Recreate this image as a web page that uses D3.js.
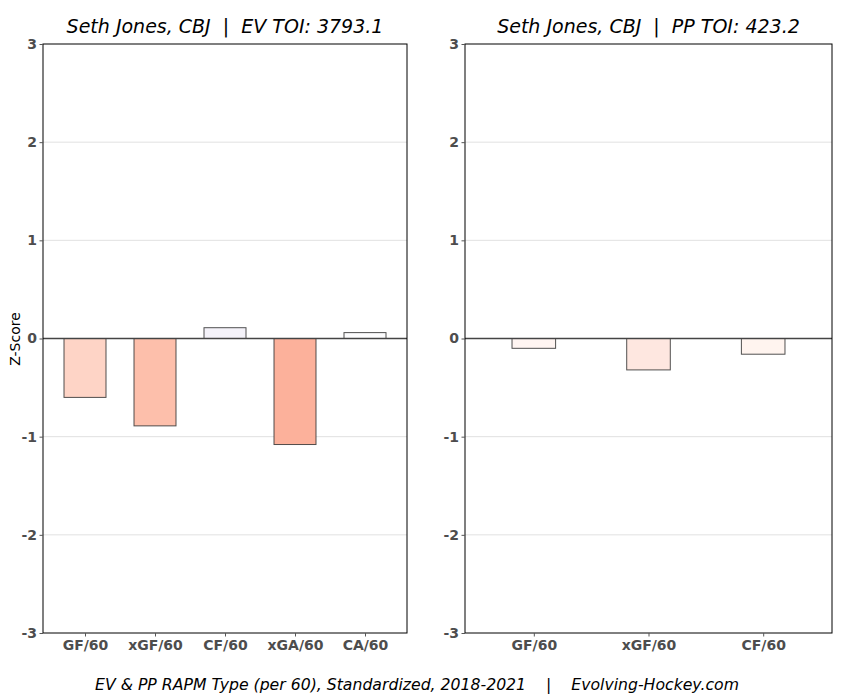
<!DOCTYPE html>
<html>
<head>
<meta charset="utf-8">
<script src="https://cdn.jsdelivr.net/npm/d3@7"></script>
<style>
  body { margin: 0; background: #fff; }
  svg { display: block; font-family: "DejaVu Sans", sans-serif; }
  text.pre { white-space: pre; }
</style>
</head>
<body>
<div id="chart"></div>
<script>
const evMetrics = ['GF/60', 'xGF/60', 'CF/60', 'xGA/60', 'CA/60'];
const evValues = [-0.60, -0.89, 0.11, -1.08, 0.06];
const evColors = ['#fed4c6', '#fdbfab', '#f4f2f9', '#fcb19b', '#fdfdfe'];

const ppMetrics = ['GF/60', 'xGF/60', 'CF/60'];
const ppValues = [-0.10, -0.32, -0.16];
const ppColors = ['#fff5f2', '#fee7e0', '#fff4ef'];

const yTicks = [-3, -2, -1, 0, 1, 2, 3];

const evTitle = 'Seth Jones, CBJ  |  EV TOI: 3793.1';
const ppTitle = 'Seth Jones, CBJ  |  PP TOI: 423.2';
const footer = 'EV & PP RAPM Type (per 60), Standardized, 2018-2021    |    Evolving-Hockey.com';

const width = 850, height = 700;
const svg = d3.select('#chart').append('svg')
    .attr('width', width)
    .attr('height', height);

function panel(opts) {
    const g = svg.append('g');
    const n = opts.metrics.length;

    const x = d3.scaleLinear()
        .domain([-0.6, n - 0.4])
        .range([opts.left, opts.right]);
    const y = d3.scaleLinear()
        .domain([-3, 3])
        .range([opts.bottom, opts.top]);

    // grid
    g.selectAll('.grid')
        .data(yTicks.filter(t => t !== 0 && Math.abs(t) !== 3))
        .enter()
        .append('line')
        .attr('x1', opts.left).attr('x2', opts.right)
        .attr('y1', d => y(d)).attr('y2', d => y(d))
        .attr('stroke', '#d9d9d9')
        .attr('stroke-width', 0.8);

    // bars
    const half = opts.barWidth / 2;
    g.selectAll('.bar')
        .data(opts.values)
        .enter()
        .append('rect')
        .attr('x', (d, i) => x(i - half))
        .attr('width', (d, i) => x(i + half) - x(i - half))
        .attr('y', d => y(Math.max(0, d)))
        .attr('height', d => Math.abs(y(d) - y(0)))
        .attr('fill', (d, i) => opts.colors[i])
        .attr('stroke', '#333')
        .attr('stroke-opacity', 0.85)
        .attr('stroke-width', 1);

    // zero line
    g.append('line')
        .attr('x1', opts.left).attr('x2', opts.right)
        .attr('y1', y(0)).attr('y2', y(0))
        .attr('stroke', '#444')
        .attr('stroke-width', 1.3);

    // frame
    g.append('rect')
        .attr('x', opts.left).attr('y', opts.top)
        .attr('width', opts.right - opts.left)
        .attr('height', opts.bottom - opts.top)
        .attr('fill', 'none')
        .attr('stroke', '#000')
        .attr('stroke-width', 1);

    // axes
    const yAxis = d3.axisLeft(y)
        .tickValues(yTicks)
        .tickFormat(d => String(d))
        .tickSize(3.5)
        .tickPadding(2.5);
    const ya = g.append('g')
        .attr('transform', `translate(${opts.left},0)`)
        .call(yAxis);
    ya.select('.domain').remove();

    const xAxis = d3.axisBottom(x)
        .tickValues(d3.range(n))
        .tickFormat(i => opts.metrics[i])
        .tickSize(3.5)
        .tickPadding(4);
    const xa = g.append('g')
        .attr('transform', `translate(0,${opts.bottom})`)
        .call(xAxis);
    xa.select('.domain').remove();

    g.selectAll('.tick line').attr('stroke', '#555');
    g.selectAll('.tick text')
        .attr('fill', '#4d4d4d')
        .attr('font-size', '14px')
        .attr('font-weight', 'bold')
        .attr('font-family', '"DejaVu Sans", sans-serif');

    // title
    g.append('text')
        .attr('class', 'pre')
        .attr('x', (opts.left + opts.right) / 2)
        .attr('y', opts.top - 11)
        .attr('text-anchor', 'middle')
        .attr('font-size', '19px')
        .attr('font-style', 'italic')
        .attr('fill', '#000')
        .text(opts.title);
}

panel({
    metrics: evMetrics, values: evValues, colors: evColors,
    barWidth: 0.6, title: evTitle,
    left: 43, right: 407, top: 44, bottom: 633
});

panel({
    metrics: ppMetrics, values: ppValues, colors: ppColors,
    barWidth: 0.38, title: ppTitle,
    left: 465, right: 832, top: 44, bottom: 633
});

// y label
svg.append('text')
    .attr('transform', 'translate(20,339) rotate(-90)')
    .attr('text-anchor', 'middle')
    .attr('font-size', '14px')
    .attr('fill', '#000')
    .text('Z-Score');

// footer
svg.append('text')
    .attr('class', 'pre')
    .attr('x', 417)
    .attr('y', 690)
    .attr('text-anchor', 'middle')
    .attr('font-size', '15.7px')
    .attr('font-style', 'italic')
    .attr('fill', '#000')
    .text(footer);
</script>
</body>
</html>
